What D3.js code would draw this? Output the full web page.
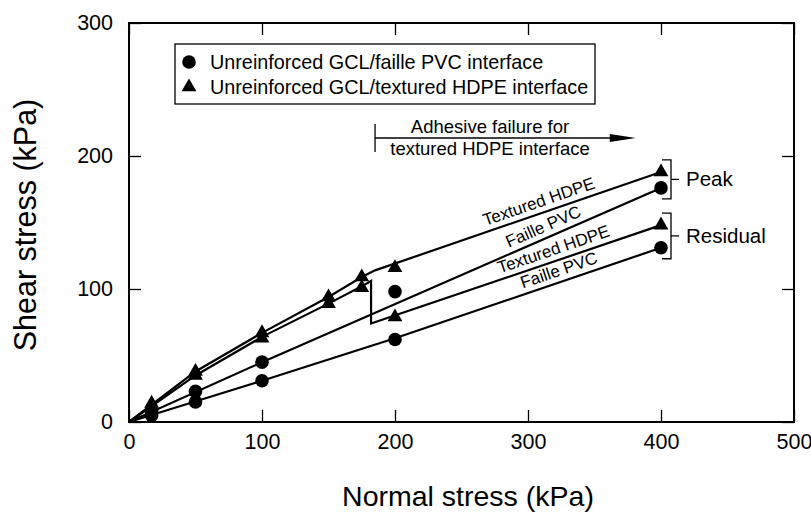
<!DOCTYPE html>
<html><head><meta charset="utf-8">
<script src="https://cdn.jsdelivr.net/npm/d3@7"></script>
<style>body{margin:0;background:#fff}svg text{font-family:"Liberation Sans",Arial,Helvetica,sans-serif;fill:#000}</style>
</head><body><svg id="c" width="811" height="512"></svg>
<script>
// ---- data (kPa) ----
const xTicks = [0, 100, 200, 300, 400, 500];
const yTicks = [0, 100, 200, 300];

// measured points
const pvcPeakX = [17, 50, 100, 200, 400];
const pvcPeakY = [8, 23, 45, 98, 176];
const pvcResX = [17, 50, 100, 200, 400];
const pvcResY = [5, 15, 31, 62, 131];
const hdpePeakX = [17, 50, 100, 150, 175, 200, 400];
const hdpePeakY = [14, 38, 67, 94, 109, 116, 188];
const hdpeResX = [17, 50, 100, 150, 175, 200, 400];
const hdpeResY = [12, 35, 63, 89, 101, 79, 148];

// fitted envelopes
const lineHdpePeakX = [0, 50, 100, 150, 175, 185, 400];
const lineHdpePeakY = [0, 38, 67, 94, 109, 114, 188];
const lineHdpeResX = [0, 50, 100, 150, 175, 182, 182, 400];
const lineHdpeResY = [0, 35, 64, 89, 102, 106, 74, 148];
const linePvcPeakX = [0, 100, 400];
const linePvcPeakY = [0, 45, 176];
const linePvcResX = [0, 100, 200, 400];
const linePvcResY = [0, 31, 63, 131];

const lineLabels = ["Textured HDPE", "Faille PVC", "Textured HDPE", "Faille PVC"];
const lineLabelAt = [311, 315, 322, 326];
const legendLabels = ["Unreinforced GCL/faille PVC interface", "Unreinforced GCL/textured HDPE interface"];
const adhesiveText = ["Adhesive failure for", "textured HDPE interface"];
const adhesiveFrom = 185, adhesiveTo = 381;
const bracketLabels = ["Peak", "Residual"];
const xTitle = "Normal stress (kPa)";
const yTitle = "Shear stress (kPa)";

// ---- layout ----
const W = 811, H = 512;
const m = {l: 129, r: 17, t: 23, b: 90};
const svg = d3.select("#c");
const x = d3.scaleLinear().domain([0, 500]).range([m.l, W - m.r]);
const y = d3.scaleLinear().domain([0, 300]).range([H - m.b, m.t]);
const zip = (a, b) => a.map((v, i) => [v, b[i]]);

// axes with inward ticks
const tl = 12;
svg.append("g").attr("transform", `translate(0,${y(0)})`)
  .call(d3.axisBottom(x).tickValues(xTicks).tickSizeInner(-tl).tickSizeOuter(0).tickPadding(12))
  .call(g => g.selectAll("text").attr("font-size", 21.5))
  .call(g => g.select(".domain").remove());
svg.append("g").attr("transform", `translate(${x(0)},0)`)
  .call(d3.axisLeft(y).tickValues(yTicks).tickSizeInner(-tl).tickSizeOuter(0).tickPadding(16))
  .call(g => g.selectAll("text").attr("font-size", 21.5))
  .call(g => g.select(".domain").remove());
svg.append("g").attr("transform", `translate(0,${y(300)})`)
  .call(d3.axisTop(x).tickValues(xTicks).tickSizeInner(-tl).tickSizeOuter(0).tickFormat(""))
  .call(g => g.select(".domain").remove());
svg.append("g").attr("transform", `translate(${x(500)},0)`)
  .call(d3.axisRight(y).tickValues(yTicks).tickSizeInner(-tl).tickSizeOuter(0).tickFormat(""))
  .call(g => g.select(".domain").remove());
svg.selectAll(".tick line").attr("stroke", "#000").attr("stroke-width", 1.3);
svg.append("rect").attr("x", x(0)).attr("y", y(300)).attr("width", x(500) - x(0)).attr("height", y(0) - y(300))
  .attr("fill", "none").attr("stroke", "#000").attr("stroke-width", 2);

// lines
const line = d3.line().x(d => x(d[0])).y(d => y(d[1]));
const lines = [zip(lineHdpePeakX, lineHdpePeakY), zip(linePvcPeakX, linePvcPeakY), zip(lineHdpeResX, lineHdpeResY), zip(linePvcResX, linePvcResY)];
svg.selectAll("path.env").data(lines).join("path").attr("class", "env")
  .attr("d", line).attr("fill", "none").attr("stroke", "#000").attr("stroke-width", 2.2).attr("stroke-linejoin", "miter");

// line labels
const interp = (pts, xv) => {
  for (let i = 1; i < pts.length; i++) {
    if (pts[i][0] >= xv && pts[i - 1][0] <= xv && pts[i][0] !== pts[i - 1][0]) {
      const t = (xv - pts[i - 1][0]) / (pts[i][0] - pts[i - 1][0]);
      return {v: pts[i - 1][1] + t * (pts[i][1] - pts[i - 1][1]),
        ang: Math.atan2(y(pts[i][1]) - y(pts[i - 1][1]), x(pts[i][0]) - x(pts[i - 1][0])) * 180 / Math.PI};
    }
  }
};
lineLabels.forEach((lab, i) => {
  const r = interp(lines[i], lineLabelAt[i]);
  svg.append("text").attr("transform", `translate(${x(lineLabelAt[i])},${y(r.v)}) rotate(${r.ang})`)
    .attr("text-anchor", "middle").attr("dy", -6).attr("font-size", 17).text(lab);
});

// markers
const tri = d3.symbol().type(d3.symbolTriangle).size(95);
function dots(xs, ys) {
  svg.append("g").selectAll("circle").data(zip(xs, ys)).join("circle")
    .attr("cx", d => x(d[0])).attr("cy", d => y(d[1])).attr("r", 6.8).attr("fill", "#000");
}
function tris(xs, ys) {
  svg.append("g").selectAll("path").data(zip(xs, ys)).join("path")
    .attr("d", tri).attr("transform", d => `translate(${x(d[0])},${y(d[1])})`).attr("fill", "#000");
}
dots(pvcPeakX, pvcPeakY); dots(pvcResX, pvcResY);
tris(hdpePeakX, hdpePeakY); tris(hdpeResX, hdpeResY);

// legend
const lg = svg.append("g");
lg.append("rect").attr("x", 175).attr("y", 44).attr("width", 420).attr("height", 60)
  .attr("fill", "#fff").attr("stroke", "#000").attr("stroke-width", 1.3);
lg.append("circle").attr("cx", 189).attr("cy", 62).attr("r", 6.8).attr("fill", "#000");
lg.append("path").attr("d", tri).attr("transform", "translate(189,87)").attr("fill", "#000");
legendLabels.forEach((t, i) => lg.append("text").attr("x", 210).attr("y", 69 + i * 25).attr("font-size", 19.8).text(t));

// adhesive failure annotation
const ay = 138;
svg.append("line").attr("x1", x(adhesiveFrom)).attr("x2", x(adhesiveFrom)).attr("y1", 124).attr("y2", 152)
  .attr("stroke", "#000").attr("stroke-width", 1.3);
svg.append("line").attr("x1", x(adhesiveFrom)).attr("x2", x(adhesiveTo) - 20).attr("y1", ay).attr("y2", ay)
  .attr("stroke", "#000").attr("stroke-width", 1.3);
svg.append("path").attr("d", `M${x(adhesiveTo)},${ay} L${x(adhesiveTo) - 26},${ay - 4} L${x(adhesiveTo) - 26},${ay + 4} Z`).attr("fill", "#000");
adhesiveText.forEach((t, i) => svg.append("text").attr("x", 490).attr("y", 133 + i * 22)
  .attr("text-anchor", "middle").attr("font-size", 18.5).text(t));

// brackets
const brackets = [[hdpePeakY[6], pvcPeakY[4]], [hdpeResY[6], pvcResY[4]]];
brackets.forEach((b, i) => {
  const top = y(b[0]) - 12, bot = y(b[1]) + 11, bx = x(400) + 10, mid = (top + bot) / 2;
  svg.append("path").attr("d", `M${bx - 9},${top} H${bx} V${bot} H${bx - 9} M${bx},${mid} H${bx + 8}`)
    .attr("fill", "none").attr("stroke", "#000").attr("stroke-width", 1.3);
  svg.append("text").attr("x", bx + 15).attr("y", mid + 7).attr("font-size", 20.5).text(bracketLabels[i]);
});

// titles
svg.append("text").attr("x", 468).attr("y", 506).attr("text-anchor", "middle").attr("font-size", 28.5).text(xTitle);
svg.append("text").attr("transform", "translate(36,225) rotate(-90)").attr("text-anchor", "middle").attr("font-size", 30.5).text(yTitle);
</script></body></html>
